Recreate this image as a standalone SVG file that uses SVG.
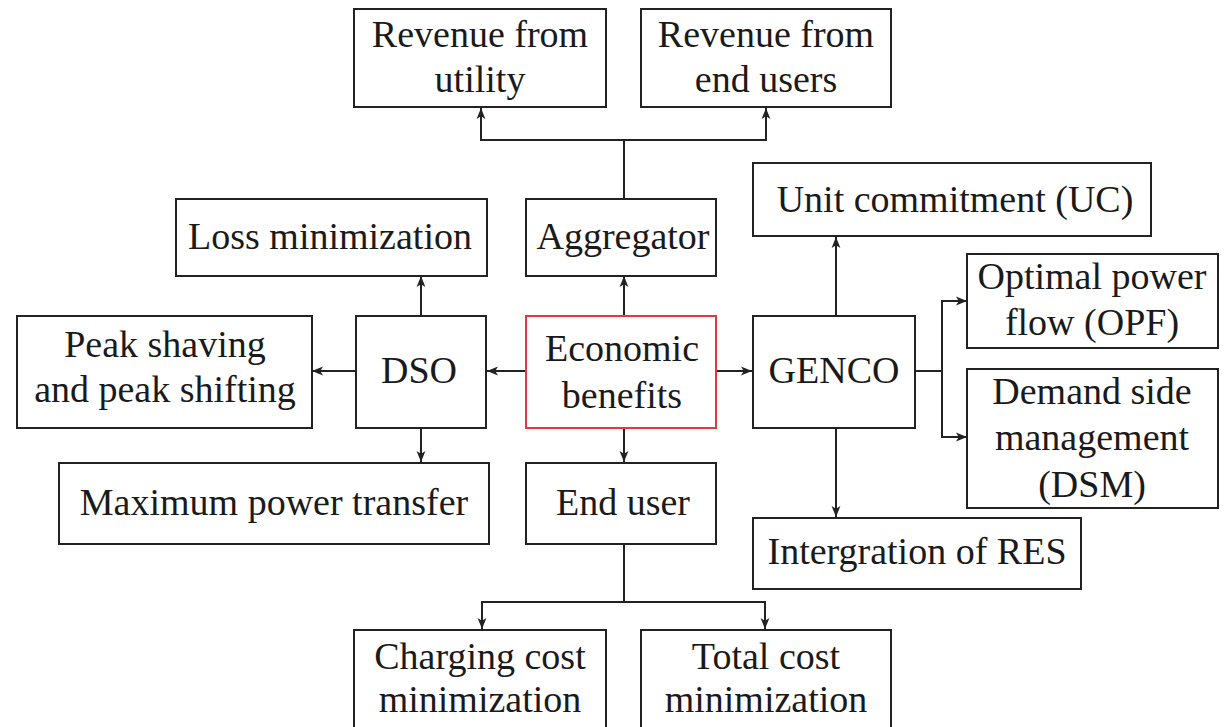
<svg xmlns="http://www.w3.org/2000/svg" width="1226" height="727" viewBox="0 0 1226 727">
<style>
rect{fill:#fff;stroke:#222;stroke-width:2}
rect.red{stroke:#e53935}
text{font-family:"Liberation Serif","Times New Roman",serif;font-size:38px;fill:#1a1a1a;text-anchor:middle}
.c path{fill:none;stroke:#222;stroke-width:2}
</style>
<defs>
<marker id="ah" viewBox="0 0 10 10" refX="10" refY="5" markerWidth="11" markerHeight="11" markerUnits="userSpaceOnUse" orient="auto">
<path d="M0,1 L10,5 L0,9 L2.5,5 Z" fill="#222"/>
</marker>
</defs>
<g class="c" id="connectors">
<path d="M624,199 V140"/>
<path d="M624,140 H481 V108" marker-end="url(#ah)"/>
<path d="M624,140 H766 V108" marker-end="url(#ah)"/>
<path d="M624,316 V276" marker-end="url(#ah)"/>
<path d="M526,371 H487" marker-end="url(#ah)"/>
<path d="M716,371 H752" marker-end="url(#ah)"/>
<path d="M624,428 V462" marker-end="url(#ah)"/>
<path d="M421,316 V276" marker-end="url(#ah)"/>
<path d="M356,371 H312" marker-end="url(#ah)"/>
<path d="M421,428 V462" marker-end="url(#ah)"/>
<path d="M836,316 V237" marker-end="url(#ah)"/>
<path d="M836,428 V517" marker-end="url(#ah)"/>
<path d="M915,371 H942"/>
<path d="M942,371 V301 H967" marker-end="url(#ah)"/>
<path d="M942,371 V437 H967" marker-end="url(#ah)"/>
<path d="M624,544 V602"/>
<path d="M624,602 H482 V629" marker-end="url(#ah)"/>
<path d="M624,602 H765 V629" marker-end="url(#ah)"/>
</g>
<g id="rev-utility"><rect x="354" y="9" width="252" height="98"/><text x="480" y="47">Revenue from</text><text x="480" y="92">utility</text></g>
<g id="rev-endusers"><rect x="641" y="9" width="250" height="98"/><text x="766" y="47">Revenue from</text><text x="766" y="92">end users</text></g>
<g id="uc"><rect x="753" y="163" width="398" height="73"/><text x="955" y="212">Unit commitment (UC)</text></g>
<g id="loss"><rect x="176" y="199" width="311" height="77"/><text x="330" y="249">Loss minimization</text></g>
<g id="aggregator"><rect x="526" y="199" width="190" height="77"/><text x="623" y="249">Aggregator</text></g>
<g id="opf"><rect x="967" y="254" width="251" height="94"/><text x="1092" y="289">Optimal power</text><text x="1092" y="335">flow (OPF)</text></g>
<g id="peak"><rect x="17" y="316" width="295" height="112"/><text x="165" y="357">Peak shaving</text><text x="165" y="402">and peak shifting</text></g>
<g id="dso"><rect x="356" y="316" width="130" height="112"/><text x="419" y="383">DSO</text></g>
<g id="economic"><rect class="red" x="526" y="316" width="190" height="112"/><text x="622" y="361">Economic</text><text x="622" y="408">benefits</text></g>
<g id="genco"><rect x="753" y="316" width="162" height="112"/><text x="834" y="383">GENCO</text></g>
<g id="dsm"><rect x="967" y="369" width="251" height="139"/><text x="1092" y="404">Demand side</text><text x="1092" y="450">management</text><text x="1092" y="497">(DSM)</text></g>
<g id="maxpower"><rect x="59" y="463" width="430" height="81"/><text x="274" y="515">Maximum power transfer</text></g>
<g id="enduser"><rect x="526" y="463" width="190" height="81"/><text x="623" y="515">End user</text></g>
<g id="res"><rect x="753" y="518" width="328" height="71"/><text x="917" y="564">Intergration of RES</text></g>
<g id="charging"><rect x="354" y="630" width="252" height="110"/><text x="480" y="669">Charging cost</text><text x="480" y="712">minimization</text></g>
<g id="totalcost"><rect x="641" y="630" width="250" height="110"/><text x="766" y="669">Total cost</text><text x="766" y="712">minimization</text></g>
</svg>
